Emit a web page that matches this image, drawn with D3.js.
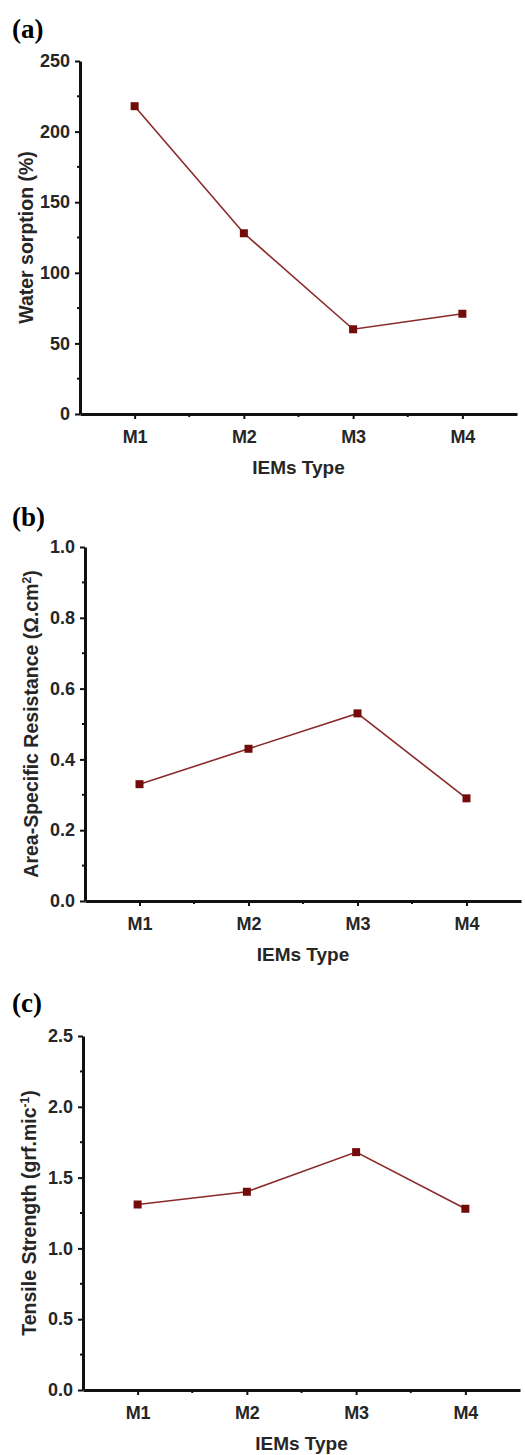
<!DOCTYPE html>
<html>
<head>
<meta charset="utf-8">
<script src="https://cdn.jsdelivr.net/npm/d3@7"></script>
<style>
  html, body { margin: 0; padding: 0; background: #fff; }
  svg { display: block; }
  .tick text { font-family: "Liberation Sans", Arial, sans-serif; font-weight: bold; fill: #262626; }
</style>
</head>
<body>
<svg id="chart"></svg>
<script>
// data
const categories = ["M1", "M2", "M3", "M4"];
const waterSorption = [218, 128, 60, 71];
const resistance = [0.33, 0.43, 0.53, 0.29];
const tensile = [1.31, 1.40, 1.68, 1.28];

const ticksA = [0, 50, 100, 150, 200, 250];
const ticksB = [0.0, 0.2, 0.4, 0.6, 0.8, 1.0];
const ticksC = [0.0, 0.5, 1.0, 1.5, 2.0, 2.5];

const width = 525, height = 1455;

const svg = d3.select("#chart")
  .attr("width", width)
  .attr("height", height);

// one panel = one small line chart
function drawPanel(opts) {
  const g = svg.append("g");

  const x = d3.scaleLinear()
    .domain([0.5, categories.length + 0.5])
    .range([opts.left, opts.right]);

  const y = d3.scaleLinear()
    .domain([0, opts.max])
    .range([opts.bottom, opts.top]);

  // minor ticks first, so the axis line sits on top
  const step = opts.ticks[1] - opts.ticks[0];
  const minorY = opts.ticks.slice(1).map(t => t - step / 2);
  g.selectAll(".minor-y")
    .data(minorY)
    .enter()
    .append("line")
    .attr("x1", opts.left - 3)
    .attr("x2", opts.left)
    .attr("y1", d => y(d))
    .attr("y2", d => y(d))
    .attr("stroke", "#111")
    .attr("stroke-width", 2);

  g.selectAll(".minor-x")
    .data([1.5, 2.5, 3.5])
    .enter()
    .append("line")
    .attr("x1", d => x(d))
    .attr("x2", d => x(d))
    .attr("y1", opts.bottom)
    .attr("y2", opts.bottom + 3)
    .attr("stroke", "#111")
    .attr("stroke-width", 2);

  // y axis
  const yAxis = g.append("g")
    .attr("transform", `translate(${opts.left},0)`)
    .call(d3.axisLeft(y)
      .tickValues(opts.ticks)
      .tickFormat(opts.fmt)
      .tickSize(5)
      .tickSizeOuter(0)
      .tickPadding(5));
  yAxis.select(".domain").attr("stroke", "#111").attr("stroke-width", 3);
  yAxis.selectAll(".tick line").attr("stroke", "#111").attr("stroke-width", 2);
  yAxis.selectAll(".tick text").style("font-size", "18px");

  // x axis
  const xAxis = g.append("g")
    .attr("transform", `translate(0,${opts.bottom})`)
    .call(d3.axisBottom(x)
      .tickValues([1, 2, 3, 4])
      .tickFormat((d, i) => categories[i])
      .tickSize(5)
      .tickSizeOuter(0)
      .tickPadding(11));
  xAxis.select(".domain").attr("stroke", "#111").attr("stroke-width", 3);
  xAxis.selectAll(".tick line").attr("stroke", "#111").attr("stroke-width", 2);
  xAxis.selectAll(".tick text").style("font-size", "18px");

  // axis titles
  g.append("text")
    .attr("x", (opts.left + opts.right) / 2)
    .attr("y", opts.bottom + 60)
    .attr("text-anchor", "middle")
    .style("font-family", "Liberation Sans, Arial, sans-serif")
    .style("font-weight", "bold")
    .style("font-size", "19px")
    .style("fill", "#262626")
    .text("IEMs Type");

  const yt = g.append("text")
    .attr("transform", `translate(${opts.left - 47},${(opts.top + opts.bottom) / 2}) rotate(-90)`)
    .attr("text-anchor", "middle")
    .style("font-family", "Liberation Sans, Arial, sans-serif")
    .style("font-weight", "bold")
    .style("font-size", "19.5px")
    .style("fill", "#262626");
  yt.append("tspan").text(opts.title);
  if (opts.sup) {
    yt.append("tspan")
      .attr("dy", -7)
      .style("font-size", "12px")
      .text(opts.sup);
    yt.append("tspan")
      .attr("dy", 7)
      .text(opts.tail);
  }

  // panel letter
  g.append("text")
    .attr("x", 12)
    .attr("y", opts.labelY)
    .style("font-family", "Liberation Serif, Times New Roman, serif")
    .style("font-weight", "bold")
    .style("font-size", "27px")
    .style("fill", "#000")
    .text(opts.letter);

  // line + square markers
  const pts = opts.values.map((v, i) => [i + 1, v]);
  const line = d3.line()
    .x(d => x(d[0]))
    .y(d => y(d[1]));

  g.append("path")
    .datum(pts)
    .attr("d", line)
    .attr("fill", "none")
    .attr("stroke", "#8a2a2a")
    .attr("stroke-width", 1.6);

  const ms = 8;
  g.selectAll(".marker")
    .data(pts)
    .enter()
    .append("rect")
    .attr("x", d => x(d[0]) - ms / 2)
    .attr("y", d => y(d[1]) - ms / 2)
    .attr("width", ms)
    .attr("height", ms)
    .attr("fill", "#740b0b");
}

drawPanel({
  letter: "(a)", labelY: 38,
  left: 80, right: 517, top: 61, bottom: 414,
  max: 250, ticks: ticksA, fmt: d3.format("d"),
  values: waterSorption,
  title: "Water sorption (%)"
});

drawPanel({
  letter: "(b)", labelY: 526,
  left: 85, right: 521, top: 547, bottom: 901,
  max: 1.0, ticks: ticksB, fmt: d3.format(".1f"),
  values: resistance,
  title: "Area-Specific Resistance (\u03A9.cm", sup: "2", tail: ")"
});

drawPanel({
  letter: "(c)", labelY: 1012,
  left: 83, right: 520, top: 1036, bottom: 1390,
  max: 2.5, ticks: ticksC, fmt: d3.format(".1f"),
  values: tensile,
  title: "Tensile Strength (grf.mic", sup: "-1", tail: ")"
});
</script>
</body>
</html>
